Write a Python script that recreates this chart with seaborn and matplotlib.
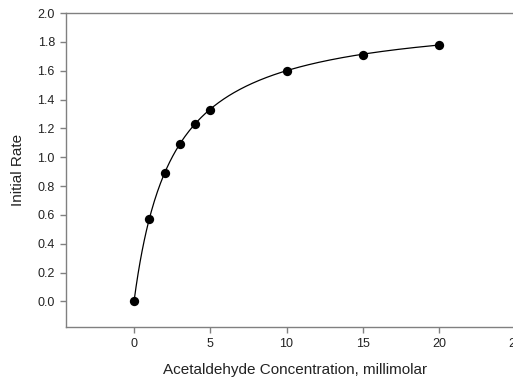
import numpy as np
import pandas as pd
import matplotlib
matplotlib.use("Agg")
import matplotlib.pyplot as plt
import seaborn as sns

# Data
concentration = [0, 1, 2, 3, 4, 5, 10, 15, 20]
initial_rate = [0.0, 0.57, 0.89, 1.09, 1.23, 1.33, 1.60, 1.71, 1.78]

# Michaelis-Menten fit parameters
vmax = 2.0
km = 2.5

x_ticks = [0, 5, 10, 15, 20, 25]
y_ticks = [0.0, 0.2, 0.4, 0.6, 0.8, 1.0, 1.2, 1.4, 1.6, 1.8, 2.0]

sns.set_theme(style="white")
plt.rcParams['font.family'] = ['Liberation Sans', 'DejaVu Sans']

W, H = 513, 382
fig = plt.figure(figsize=(W / 100, H / 100), dpi=100)
ax_w = 525.5
ax_h = 327 - 13
ax = fig.add_axes([66 / W, 1 - 327 / H, ax_w / W, ax_h / H])

xfit = np.linspace(0, max(concentration), 300)
fit_df = pd.DataFrame({"x": xfit, "y": vmax * xfit / (km + xfit)})
pts = pd.DataFrame({"x": concentration, "y": initial_rate})

sns.lineplot(data=fit_df, x="x", y="y", ax=ax, color="black", linewidth=0.9)
sns.scatterplot(data=pts, x="x", y="y", ax=ax, color="black", s=45,
                edgecolor="black", linewidth=0, zorder=3)

ax.set_xlim(-4.46, 30)
ax.set_ylim(-0.177, 2.0)
ax.set_xticks(x_ticks)
ax.set_yticks(y_ticks)
ax.set_yticklabels([f"{v:.1f}" for v in y_ticks])
ax.set_xticklabels([str(v) for v in x_ticks])

for s in ["left", "bottom", "top"]:
    ax.spines[s].set_color("#808080")
    ax.spines[s].set_linewidth(1.0)
ax.spines["right"].set_visible(False)

ax.tick_params(axis="both", which="major", direction="out", length=4,
               width=1.0, color="#808080", labelsize=9, labelcolor="#222222",
               bottom=True, left=True, pad=4)

ax.set_xlabel("Acetaldehyde Concentration, millimolar", fontsize=11,
              color="#222222", va="center", ha="center")
ax.xaxis.set_label_coords((295 - 66) / ax_w, -(370 - 327) / ax_h)
ax.set_ylabel("Initial Rate", fontsize=11, color="#222222",
              va="center", ha="center")
ax.yaxis.set_label_coords((18.5 - 66) / ax_w, (327 - 170) / ax_h)

fig.savefig("out.png", dpi=100)
